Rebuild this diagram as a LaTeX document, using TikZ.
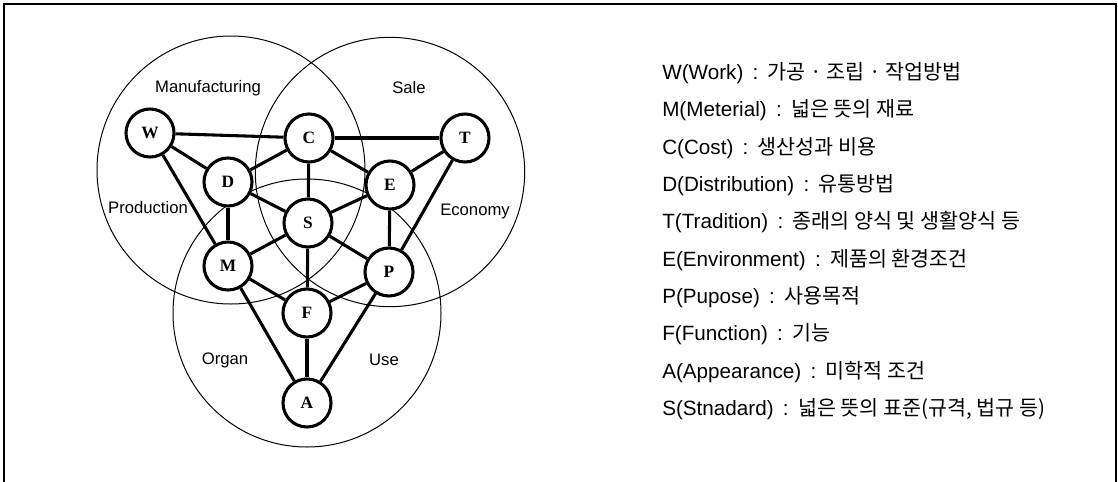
\documentclass[tikz,border=0pt]{standalone}
\usepackage{fontspec}
\setmainfont{Liberation Sans}
\newfontfamily\krfont{Noto Sans CJK KR}
\newfontfamily\ltrfont{Liberation Serif}
\usetikzlibrary{positioning}
\newcommand{\sep}{\hspace{0.45em}:\hspace{0.45em}}

\begin{document}
\begin{tikzpicture}[x=0.75pt, y=-0.75pt,
  elem/.style={circle, draw, line width=2.3pt, fill=white, minimum size=36pt, inner sep=0pt, font=\ltrfont\bfseries\fontsize{13}{13}\selectfont},
  field/.style={draw, line width=0.75pt},
  area/.style={font=\fontsize{12.5}{12.5}\selectfont},
  leg/.style={inner sep=0pt, font=\fontsize{15.5}{15.5}\selectfont},
  link/.style={line width=2.3pt}
]
\useasboundingbox (0,0) rectangle (1118,482);
\draw[line width=1.4pt] (4,482) -- (4,4) -- (1116,4) -- (1116,482);

% three fields
\draw[field] (231,170) circle[radius=100.5pt];
\draw[field] (390,172) circle[radius=101pt];
\draw[field] (307,313) circle[radius=100.5pt];

\node[area] (manu) at (208,88) {Manufacturing};
\node[area] (sale) at (409,88) {Sale};
\node[area] (prod) at (148,208) {Production};
\node[area] (econ) at (475,211) {Economy};
\node[area] (organ) at (225,360) {Organ};
\node[area] (use) at (384,360) {Use};

% elements
\node[elem] (w) at (150,133) {W};
\node[elem] (c) at (309,138) {C};
\node[elem] (t) at (465,138) {T};
\node[elem] (d) at (228,182) {D};
\node[elem] (e) at (390,185) {E};
\node[elem] (s) at (308,223) {S};
\node[elem] (m) at (228,266) {M};
\node[elem] (p) at (389,272) {P};
\node[elem] (f) at (307,313) {F};
\node[elem] (a) at (307,403) {A};

\draw[link] (w) -- (c);
\draw[link] (c) -- (t);
\draw[link] (w) -- (d);
\draw[link] (w) -- (m);
\draw[link] (d) -- (c);
\draw[link] (c) -- (e);
\draw[link] (e) -- (t);
\draw[link] (t) -- (p);
\draw[link] (d) -- (s);
\draw[link] (c) -- (s);
\draw[link] (s) -- (e);
\draw[link] (d) -- (m);
\draw[link] (e) -- (p);
\draw[link] (s) -- (m);
\draw[link] (s) -- (p);
\draw[link] (s) -- (f);
\draw[link] (m) -- (f);
\draw[link] (f) -- (p);
\draw[link] (m) -- (a);
\draw[link] (f) -- (a);
\draw[link] (p) -- (a);

% legend
\node[leg, anchor=west] (wl) at (662,73) {W(Work)\sep{\krfont 가공 · 조립 · 작업방법}};
\node[leg, below=28pt of wl.west, anchor=west] (ml) {M(Meterial)\sep{\krfont 넓은 뜻의 재료}};
\node[leg, below=28pt of ml.west, anchor=west] (cl) {C(Cost)\sep{\krfont 생산성과 비용}};
\node[leg, below=28pt of cl.west, anchor=west] (dl) {D(Distribution)\sep{\krfont 유통방법}};
\node[leg, below=28pt of dl.west, anchor=west] (tl) {T(Tradition)\sep{\krfont 종래의 양식 및 생활양식 등}};
\node[leg, below=28pt of tl.west, anchor=west] (el) {E(Environment)\sep{\krfont 제품의 환경조건}};
\node[leg, below=28pt of el.west, anchor=west] (pl) {P(Pupose)\sep{\krfont 사용목적}};
\node[leg, below=28pt of pl.west, anchor=west] (fl) {F(Function)\sep{\krfont 기능}};
\node[leg, below=28pt of fl.west, anchor=west] (al) {A(Appearance)\sep{\krfont 미학적 조건}};
\node[leg, below=28pt of al.west, anchor=west] (sl) {S(Stnadard)\sep{\krfont 넓은 뜻의 표준(규격, 법규 등)}};
\end{tikzpicture}
\end{document}
